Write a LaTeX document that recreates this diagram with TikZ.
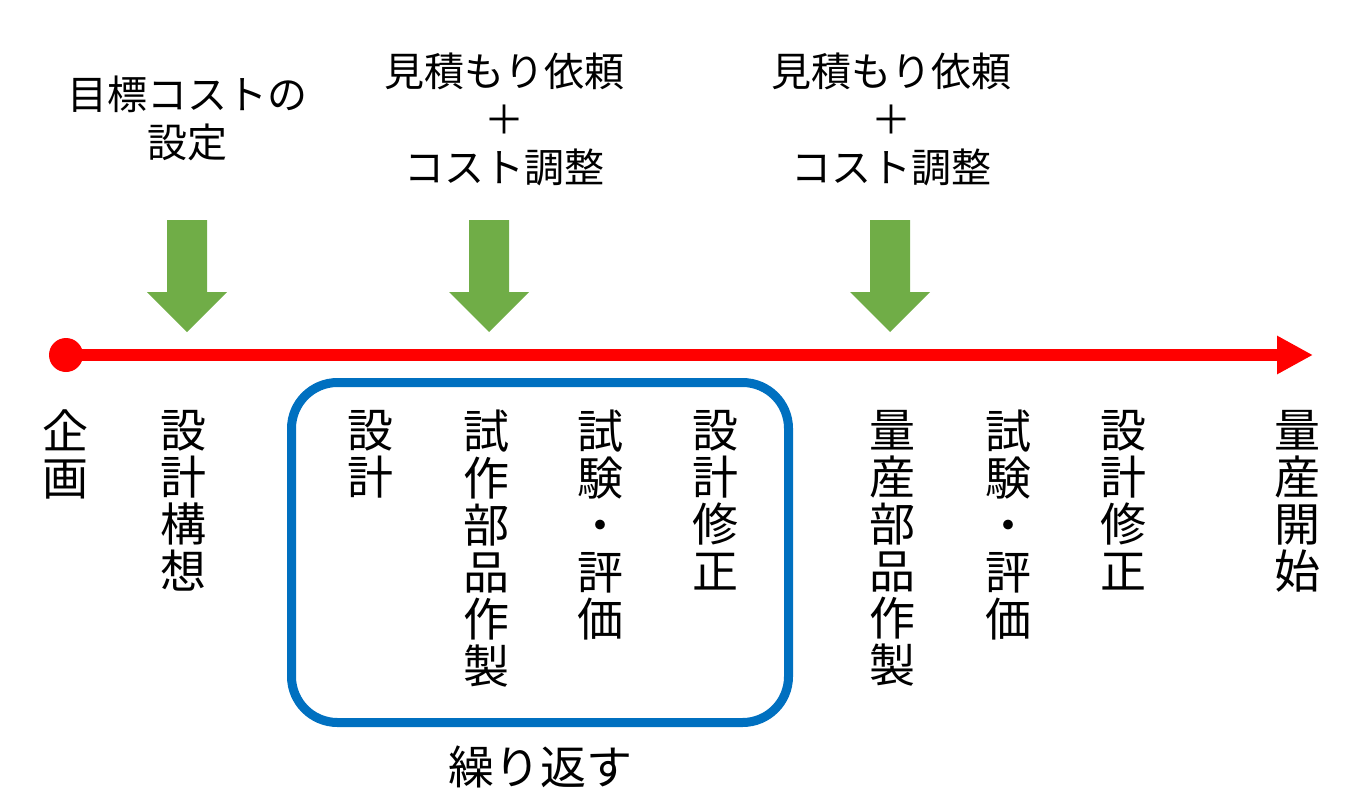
\documentclass[tikz,border=0pt]{standalone}
\usepackage{fontspec}
\newfontfamily\cjk{Noto Sans CJK JP}
\usetikzlibrary{arrows.meta}
\definecolor{arrowgreen}{HTML}{70AD47}
\definecolor{loopblue}{HTML}{0070C0}
\definecolor{lineRed}{HTML}{FF0000}
\tikzset{
  vlabel/.style={anchor=north, inner sep=0pt, align=center, font=\cjk\fontsize{46}{47}\selectfont},
  toplabel/.style={inner sep=0pt, align=center, font=\cjk\fontsize{40}{48}\selectfont},
  downarrow/.pic={\fill[arrowgreen] (-20,0) -- (20,0) -- (20,72) -- (40,72) -- (0,112) -- (-40,72) -- (-20,72) -- cycle;}
}
\begin{document}
\begin{tikzpicture}[x=1pt,y=-1pt]
\useasboundingbox (0,0) rectangle (1359,808);
% timeline
\node[circle, fill=lineRed, minimum size=34pt, inner sep=0pt] (start) at (66,355) {};
\coordinate (end) at (1313,355);
\draw[lineRed, line width=12pt, -{Triangle[length=36pt,width=36pt]}] (start.center) -- (end);
% top labels
\node[toplabel] (cost) at (187,118) {目標コストの\\設定};
\node[toplabel] (est1) at (504,119.5) {見積もり依頼\\＋\\コスト調整};
\node[toplabel] (est2) at (891,119.5) {見積もり依頼\\＋\\コスト調整};
% green arrows
\pic at (187,220) {downarrow};
\pic at (489,220) {downarrow};
\pic at (890,220) {downarrow};
% loop box
\node[draw=loopblue, line width=9pt, rounded corners=46pt, minimum width=497pt, minimum height=340pt, inner sep=0pt] (loop) at (540,552.5) {};
\node[inner sep=0pt, font=\cjk\fontsize{46}{47}\selectfont] (repeat) at (540,767) {繰り返す};
% vertical labels
\node[vlabel] (kikaku) at (65,410) {企\\画};
\node[vlabel] (kousou) at (183,410) {設\\計\\構\\想};
\node[vlabel] (sekkei) at (370,410) {設\\計};
\node[vlabel] (shisaku) at (486,410) {試\\作\\部\\品\\作\\製};
\node[vlabel] (shiken1) at (600,410) {試\\験\\・\\評\\価};
\node[vlabel] (shusei1) at (715,410) {設\\計\\修\\正};
\node[vlabel] (ryousan) at (892,410) {量\\産\\部\\品\\作\\製};
\node[vlabel] (shiken2) at (1008,410) {試\\験\\・\\評\\価};
\node[vlabel] (shusei2) at (1123,410) {設\\計\\修\\正};
\node[vlabel] (kaishi) at (1297,410) {量\\産\\開\\始};
\end{tikzpicture}
\end{document}
